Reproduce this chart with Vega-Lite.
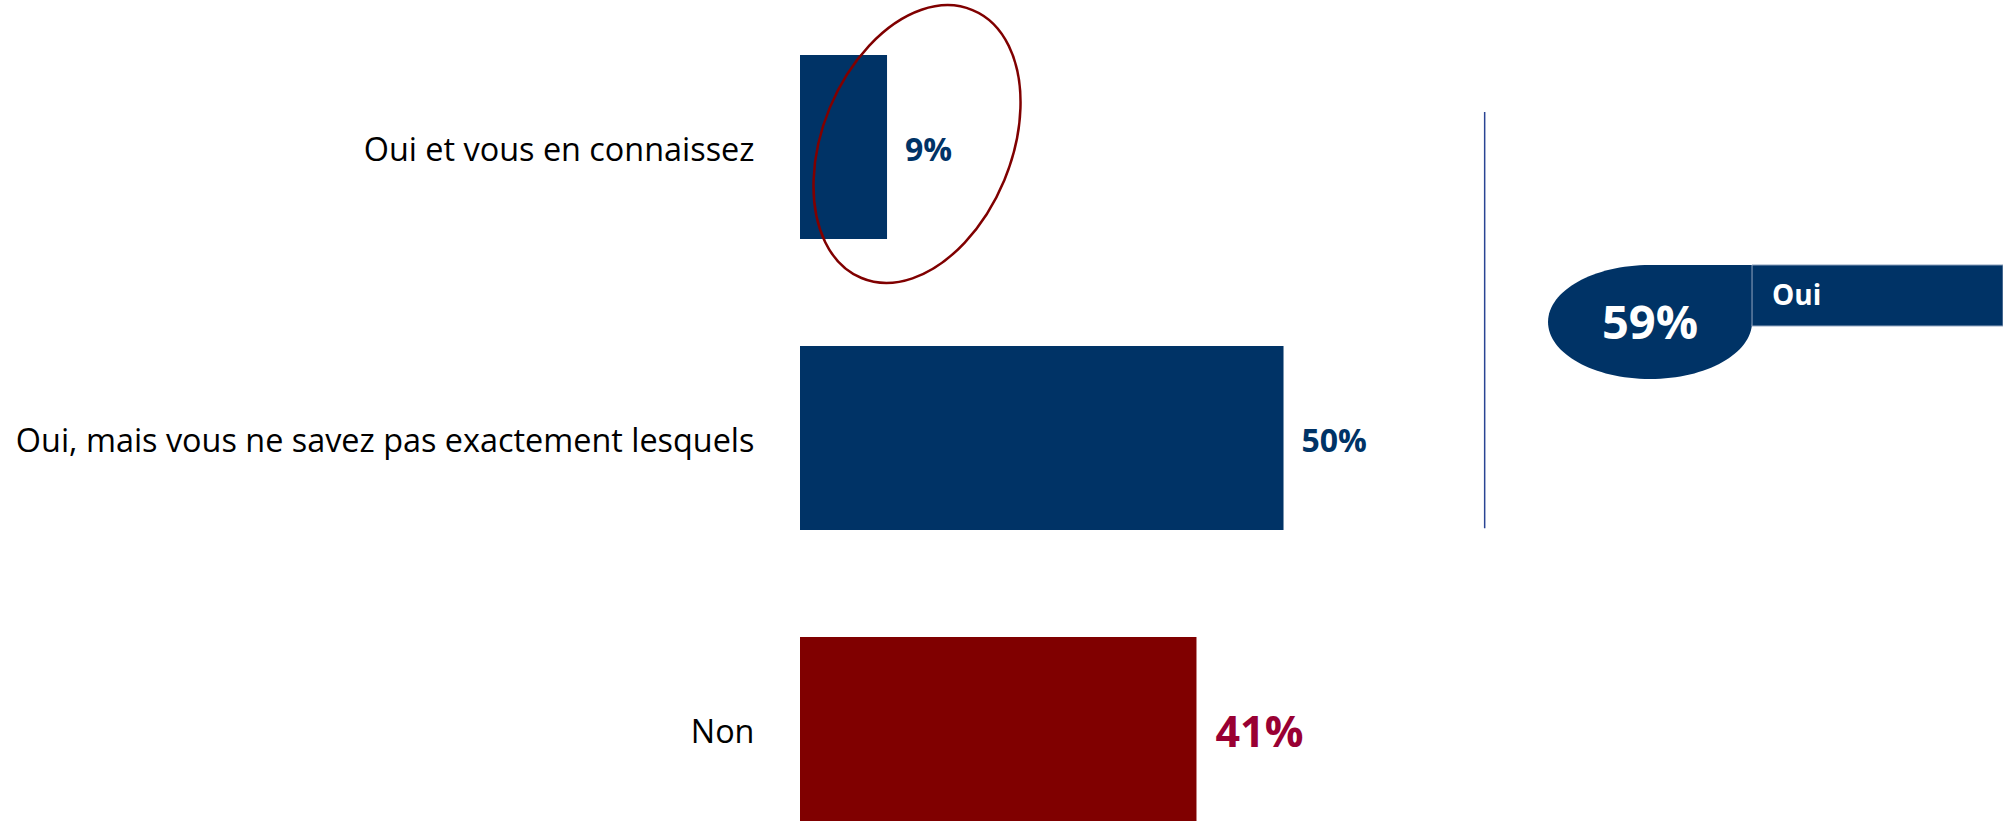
{
  "$schema": "https://vega.github.io/schema/vega-lite/v6.json",
  "width": 1203,
  "height": 821,
  "autosize": "none",
  "padding": {"left": 800, "top": 0, "right": 0, "bottom": 0},
  "background": "#ffffff",
  "config": {"view": {"stroke": null}},
  "datasets": {
    "bars": [
      {"cat": "Oui et vous en connaissez", "value": 0.09, "group": "Oui"},
      {"cat": "Oui, mais vous ne savez pas exactement lesquels", "value": 0.50, "group": "Oui"},
      {"cat": "Non", "value": 0.41, "group": "Non"}
    ],
    "summary": [
      {"label": "Oui", "value": 0.59}
    ]
  },
  "layer": [
    {
      "data": {"name": "bars"},
      "mark": {"type": "bar", "opacity": 1},
      "encoding": {
        "y": {
          "field": "cat", "type": "nominal", "sort": null,
          "scale": {"domain": ["Oui et vous en connaissez", "Oui, mais vous ne savez pas exactement lesquels", "Non"], "paddingInner": 0.3677, "paddingOuter": 0.0945, "align": 1},
          "axis": {"title": null, "domain": false, "ticks": false, "tickSize": 0, "grid": false, "labelFont": "Open Sans", "labelFontSize": 32.4, "labelColor": "#000000", "labelPadding": 46, "labelOffset": 4, "labelLimit": 900}
        },
        "x": {"field": "value", "type": "quantitative", "scale": {"domain": [0, 1.244], "nice": false, "zero": true}, "axis": null},
        "color": {"field": "group", "type": "nominal", "scale": {"domain": ["Oui", "Non"], "range": ["#003366", "#800000"]}, "legend": null}
      }
    },
    {
      "data": {"name": "bars"},
      "transform": [{"filter": "datum.group === 'Oui'"}],
      "mark": {"type": "text", "align": "left", "baseline": "middle", "dx": 18, "dy": 4, "font": "Open Sans", "fontWeight": "bold", "fontSize": 32, "color": "#003366"},
      "encoding": {
        "y": {"field": "cat", "type": "nominal"},
        "x": {"field": "value", "type": "quantitative"},
        "text": {"field": "value", "type": "quantitative", "format": ".0%"}
      }
    },
    {
      "data": {"name": "bars"},
      "transform": [{"filter": "datum.group === 'Non'"}],
      "mark": {"type": "text", "align": "left", "baseline": "middle", "dx": 19, "dy": 5, "font": "Open Sans", "fontWeight": "bold", "fontSize": 43, "color": "#990033"},
      "encoding": {
        "y": {"field": "cat", "type": "nominal"},
        "x": {"field": "value", "type": "quantitative"},
        "text": {"field": "value", "type": "quantitative", "format": ".0%"}
      }
    },
    {
      "data": {"name": "bars"},
      "transform": [{"filter": "datum.cat === 'Oui et vous en connaissez'"}],
      "mark": {"type": "point", "shape": "M55.49,-133.96 A94,145,22.5,1,1,-55.49,133.96 A94,145,22.5,1,1,55.49,-133.96 Z", "size": 4, "filled": false, "stroke": "#800000", "strokeWidth": 2.5, "opacity": 1},
      "encoding": {
        "y": {"field": "cat", "type": "nominal", "bandPosition": 0.484},
        "x": {"datum": 0.121, "type": "quantitative"}
      }
    },
    {
      "data": {"name": "summary"},
      "mark": {"type": "rule", "color": "#2A4494", "strokeWidth": 1.5},
      "encoding": {
        "x": {"datum": 0.708, "type": "quantitative"},
        "y": {"datum": "Oui et vous en connaissez", "type": "nominal", "bandPosition": 0.31},
        "y2": {"datum": "Oui, mais vous ne savez pas exactement lesquels", "bandPosition": 0.99}
      }
    },
    {
      "data": {"name": "summary"},
      "mark": {"type": "point", "shape": "M0,-57 L102,-57 L102,0 A102,57,0,0,1,0,57 A102,57,0,0,1,-102,0 A102,57,0,0,1,0,-57 Z", "size": 4, "filled": true, "fill": "#003366", "strokeWidth": 0, "opacity": 1},
      "encoding": {
        "x": {"datum": 0.879, "type": "quantitative"},
        "y": {"datum": "Oui et vous en connaissez", "type": "nominal", "bandPosition": 1.451}
      }
    },
    {
      "data": {"name": "summary"},
      "mark": {"type": "point", "shape": "M102,-57 L353,-57 L353,4 L102,4 Z", "size": 4, "filled": true, "fill": "#003366", "stroke": "#8FA2BE", "strokeWidth": 1, "opacity": 1},
      "encoding": {
        "x": {"datum": 0.879, "type": "quantitative"},
        "y": {"datum": "Oui et vous en connaissez", "type": "nominal", "bandPosition": 1.451}
      }
    },
    {
      "data": {"name": "summary"},
      "mark": {"type": "text", "align": "center", "baseline": "middle", "dy": 3, "font": "Open Sans", "fontWeight": "bold", "fontSize": 47, "color": "#ffffff"},
      "encoding": {
        "x": {"datum": 0.879, "type": "quantitative"},
        "y": {"datum": "Oui et vous en connaissez", "type": "nominal", "bandPosition": 1.451},
        "text": {"field": "value", "type": "quantitative", "format": ".0%"}
      }
    },
    {
      "data": {"name": "summary"},
      "mark": {"type": "text", "align": "left", "baseline": "middle", "dx": 122, "dy": -25, "font": "Open Sans", "fontWeight": "bold", "fontSize": 28, "color": "#ffffff"},
      "encoding": {
        "x": {"datum": 0.879, "type": "quantitative"},
        "y": {"datum": "Oui et vous en connaissez", "type": "nominal", "bandPosition": 1.451},
        "text": {"field": "label", "type": "nominal"}
      }
    }
  ]
}
